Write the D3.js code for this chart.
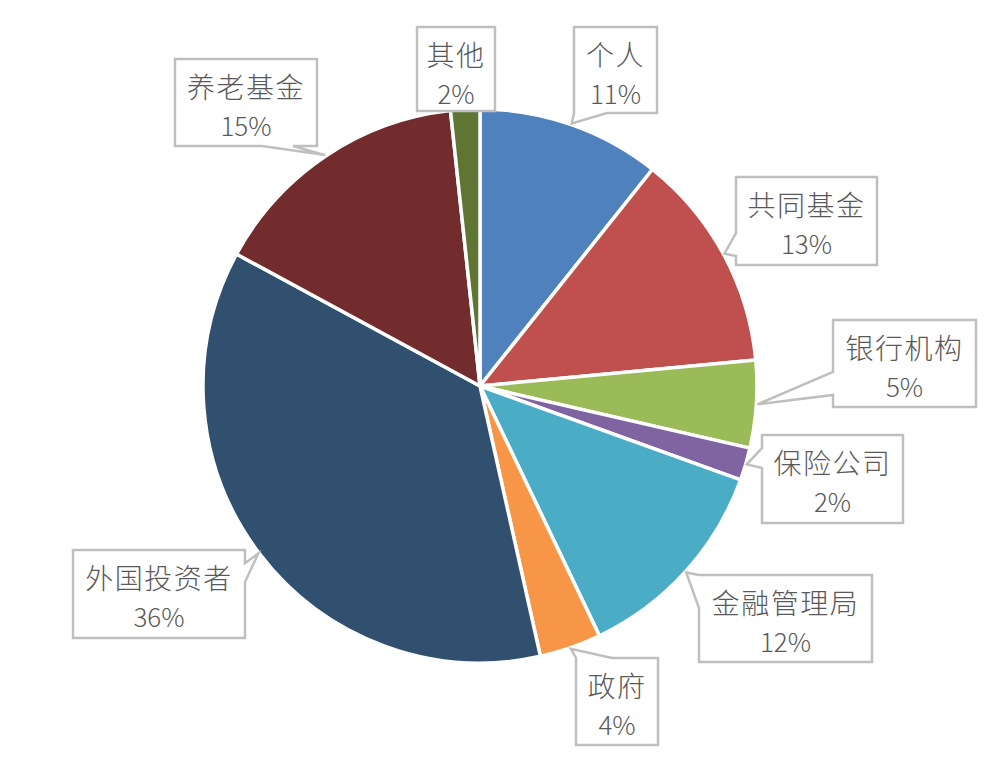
<!DOCTYPE html>
<html>
<head>
<meta charset="utf-8">
<script src="https://cdn.jsdelivr.net/npm/d3@7"></script>
<style>
  html, body { margin: 0; padding: 0; background: #fff; }
  svg { display: block; }
</style>
</head>
<body>
<svg id="chart" width="1002" height="766"></svg>
<script>
// ---- data ----
const categories = ["个人", "共同基金", "银行机构", "保险公司", "金融管理局", "政府", "外国投资者", "养老基金", "其他"];
const values = [10.7, 12.8, 5.1, 1.9, 12.4, 3.6, 36.4, 15.4, 1.7];
const colors = ["#4F81BD", "#C0504D", "#9BBB59", "#8064A2", "#4BACC6", "#F79646", "#31506F", "#722C2D", "#5E7534"];

// ---- layout of callout boxes (x, y, w, h, pointer side, pointer base range) ----
const callouts = [
  {x: 574, y: 27,  w: 83,  h: 86, side: "bottom", a: 574, b: 607},
  {x: 736, y: 177, w: 141, h: 88, side: "left",   a: 233, b: 256},
  {x: 833, y: 320, w: 143, h: 87, side: "left",   a: 372, b: 395},
  {x: 762, y: 435, w: 141, h: 88, side: "left",   a: 448, b: 468},
  {x: 699, y: 575, w: 173, h: 87, side: "left",   a: 575, b: 608},
  {x: 576, y: 658, w: 82,  h: 87, side: "top",    a: 576, b: 612},
  {x: 73,  y: 550, w: 172, h: 88, side: "right",  a: 563, b: 582},
  {x: 175, y: 59,  w: 142, h: 87, side: "bottom", a: 262, b: 293},
  {x: 417, y: 27,  w: 78,  h: 84, side: "none",   a: 0,   b: 0}
];

const svg = d3.select("#chart");
const cx = 480, cy = 386, r = 277;
const total = d3.sum(values);

const data = categories.map((c, i) => ({name: c, value: values[i], color: colors[i], i}));
const pie = d3.pie().value(d => d.value).sort(null);
const arcs = pie(data);
const arc = d3.arc().innerRadius(0).outerRadius(r);

const g = svg.append("g").attr("transform", `translate(${cx},${cy})`);
g.selectAll("path.slice")
  .data(arcs)
  .join("path")
  .attr("class", "slice")
  .attr("d", arc)
  .attr("fill", d => d.data.color)
  .attr("stroke", "#fff")
  .attr("stroke-width", 3.5)
  .attr("stroke-linejoin", "round");

// callouts
function calloutPath(c, tip) {
  const x0 = c.x, y0 = c.y, x1 = c.x + c.w, y1 = c.y + c.h;
  const p = d3.path();
  p.moveTo(x0, y0);
  if (c.side === "top") { p.lineTo(c.a, y0); p.lineTo(tip[0], tip[1]); p.lineTo(c.b, y0); }
  p.lineTo(x1, y0);
  if (c.side === "right") { p.lineTo(x1, c.a); p.lineTo(tip[0], tip[1]); p.lineTo(x1, c.b); }
  p.lineTo(x1, y1);
  if (c.side === "bottom") { p.lineTo(c.b, y1); p.lineTo(tip[0], tip[1]); p.lineTo(c.a, y1); }
  p.lineTo(x0, y1);
  if (c.side === "left") { p.lineTo(x0, c.b); p.lineTo(tip[0], tip[1]); p.lineTo(x0, c.a); }
  p.closePath();
  return p.toString();
}

const lg = svg.append("g");
arcs.forEach((d, i) => {
  const c = callouts[i];
  const mid = (d.startAngle + d.endAngle) / 2;
  const tip = [cx + Math.sin(mid) * (r + 1), cy - Math.cos(mid) * (r + 1)];
  lg.append("path")
    .attr("d", calloutPath(c, tip))
    .attr("fill", "#fff")
    .attr("stroke", "#BFBFBF")
    .attr("stroke-width", 2.5)
    .attr("stroke-linejoin", "miter");
  const tx = c.x + c.w / 2;
  const pct = Math.round(d.data.value / total * 100) + "%";
  lg.append("text")
    .attr("x", tx).attr("y", c.y + 27)
    .attr("text-anchor", "middle")
    .attr("dominant-baseline", "central")
    .attr("font-family", "'Noto Sans CJK SC', 'Noto Sans', sans-serif")
    .attr("font-weight", 300)
    .attr("font-size", 28)
    .attr("letter-spacing", 1.5)
    .attr("fill", "#595959")
    .text(d.data.name);
  lg.append("text")
    .attr("x", tx).attr("y", c.y + 65)
    .attr("text-anchor", "middle")
    .attr("dominant-baseline", "central")
    .attr("font-family", "'Noto Sans CJK SC', 'Noto Sans', sans-serif")
    .attr("font-weight", 300)
    .attr("font-size", 26)
    .attr("fill", "#595959")
    .text(pct);
});
</script>
</body>
</html>
